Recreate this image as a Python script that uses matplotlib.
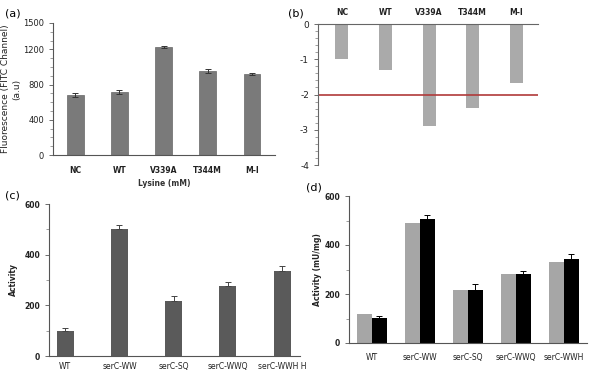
import matplotlib.pyplot as plt
import numpy as np
from matplotlib.ticker import MultipleLocator

plt.rcParams['axes.unicode_minus'] = False

# panel (a)
a_labels = ['NC', 'WT', 'V339A', 'T344M', 'M-I']
a_values = [680, 715, 1225, 955, 920]
a_errors = [25, 20, 10, 25, 10]

# panel (b)
b_labels = ['NC', 'WT', 'V339A', 'T344M', 'M-I']
b_values = [-1.0, -1.3, -2.88, -2.38, -1.68]
b_threshold = -2

# panel (c)
c_labels = ['WT', 'serC-WW', 'serC-SQ', 'serC-WWQ', 'serC-WWH H']
c_values = [100, 500, 218, 278, 335]
c_errors = [12, 18, 18, 15, 22]

# panel (d)
d_labels = ['WT', 'serC-WW', 'serC-SQ', 'serC-WWQ', 'serC-WWH']
d_gray = [118, 490, 218, 282, 330]
d_black = [103, 505, 218, 283, 342]
d_black_err = [8, 18, 22, 10, 22]

W, H = 591, 372
fig = plt.figure(figsize=(W / 100, H / 100), dpi=100)


def px_axes(left, top, right, bottom):
    return fig.add_axes([left / W, 1 - bottom / H, (right - left) / W, (bottom - top) / H])


def tidy(ax):
    for s in ['top', 'right']:
        ax.spines[s].set_visible(False)
    for s in ax.spines.values():
        s.set_color('#555555')
        s.set_linewidth(0.8)
    ax.tick_params(axis='y', labelsize=6, length=3, width=0.6, colors='#555555', labelcolor='#222222')
    ax.tick_params(axis='y', which='minor', length=2, width=0.5, colors='#777777')
    ax.tick_params(axis='x', length=0, labelsize=5.5, labelcolor='#222222')


# (a)
ax = px_axes(53, 23, 275, 155)
x = np.arange(len(a_labels))
ax.bar(x, a_values, 0.38, color='#7a7a7a', edgecolor='#666666', linewidth=0.5,
       yerr=a_errors, capsize=2, error_kw=dict(elinewidth=0.7, capthick=0.7, ecolor='#333333'))
ax.set_xlim(-0.5, 4.52)
ax.set_ylim(0, 1500)
ax.set_yticks([0, 400, 800, 1200, 1500])
ax.yaxis.set_minor_locator(MultipleLocator(100))
ax.set_xticks(x, a_labels, fontweight='bold')
tidy(ax)
ax.tick_params(axis='x', pad=8)
ax.set_ylabel('Fluorescence (FITC Channel)\n(a.u)', fontsize=6.5, color='#222222',
              linespacing=1.3)
ax.yaxis.set_label_coords(-0.145, 0.5)
ax.set_xlabel('Lysine (mM)', fontsize=5.5, fontweight='bold', color='#333333', labelpad=3)
fig.text(5 / W, 1 - 14 / H, '(a)', fontsize=8, va='center')

# (b)
ax = px_axes(318, 24, 538, 165)
x = np.arange(len(b_labels))
ax.bar(x, b_values, 0.3, color='#aaaaaa')
ax.axhline(b_threshold, color='#b03a3a', linewidth=1.2)
ax.set_xlim(-0.55, 4.5)
ax.set_ylim(-4, 0)
ax.set_yticks([0, -1, -2, -3, -4])
ax.yaxis.set_minor_locator(MultipleLocator(0.2))
ax.xaxis.tick_top()
ax.set_xticks(x, b_labels, fontweight='bold')
for s in ['bottom', 'right']:
    ax.spines[s].set_visible(False)
for s in ax.spines.values():
    s.set_color('#666666')
    s.set_linewidth(0.8)
ax.tick_params(axis='y', labelsize=6.5, length=3, width=0.6, colors='#555555', labelcolor='#222222')
ax.tick_params(axis='y', which='minor', length=2, width=0.5, colors='#777777')
ax.tick_params(axis='x', length=0, labelsize=5.5, labelcolor='#222222', pad=5)
fig.text(288 / W, 1 - 14 / H, '(b)', fontsize=8, va='center')

# (c)
ax = px_axes(49, 204, 300, 356)
x = np.arange(len(c_labels))
ax.bar(x, c_values, 0.31, color='#5a5a5a',
       yerr=[np.zeros(len(c_errors)), c_errors], capsize=2,
       error_kw=dict(elinewidth=0.7, capthick=0.7, ecolor='#444444'))
ax.set_xlim(-0.3, 4.33)
ax.set_ylim(0, 600)
ax.set_yticks([0, 200, 400, 600])
ax.yaxis.set_minor_locator(MultipleLocator(100))
ax.set_xticks(x, c_labels)
tidy(ax)
ax.tick_params(axis='y', labelsize=5.5)
ax.tick_params(axis='x', pad=4)
for lbl in ax.get_yticklabels():
    lbl.set_fontweight('bold')
ax.set_ylabel('Activity', fontsize=5.5, fontweight='bold', color='#222222')
ax.yaxis.set_label_coords(-0.125, 0.5)
fig.text(5 / W, 1 - 195 / H, '(c)', fontsize=8, va='center')

# (d)
ax = px_axes(349, 196, 587, 343)
x = np.arange(len(d_labels))
bw = 0.31
ax.bar(x - bw / 2, d_gray, bw, color='#a6a6a6')
ax.bar(x + bw / 2, d_black, bw, color='#000000',
       yerr=[np.zeros(len(d_black_err)), d_black_err], capsize=2,
       error_kw=dict(elinewidth=0.7, capthick=0.7, ecolor='#000000'))
ax.set_xlim(-0.48, 4.48)
ax.set_ylim(0, 600)
ax.set_yticks([0, 200, 400, 600])
ax.yaxis.set_minor_locator(MultipleLocator(100))
ax.set_xticks(x, d_labels)
tidy(ax)
ax.tick_params(axis='y', labelsize=5.5)
ax.tick_params(axis='x', pad=7)
for lbl in ax.get_yticklabels():
    lbl.set_fontweight('bold')
ax.set_ylabel('Activity (mU/mg)', fontsize=5.5, fontweight='bold', color='#222222')
ax.yaxis.set_label_coords(-0.115, 0.5)
fig.text(306 / W, 1 - 187 / H, '(d)', fontsize=8, va='center')

fig.savefig('out.png', dpi=100)
